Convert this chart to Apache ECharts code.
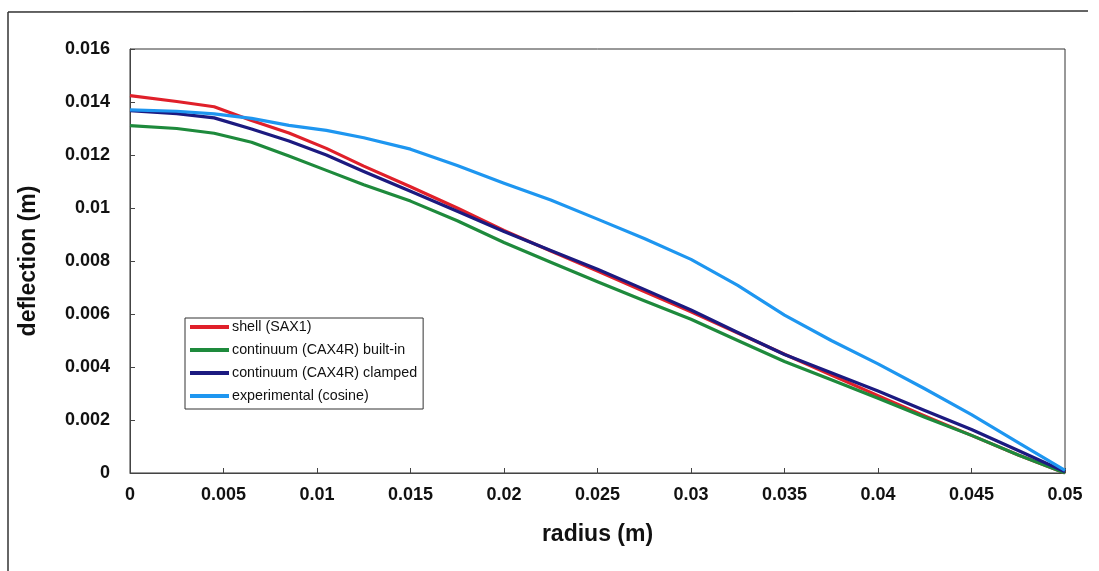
<!DOCTYPE html>
<html>
<head>
<meta charset="utf-8">
<script src="https://cdn.jsdelivr.net/npm/echarts@6/dist/echarts.min.js"></script>
<style>
html,body{margin:0;padding:0;background:#fff;}
#chart{width:1099px;height:571px;}
</style>
</head>
<body>
<div id="chart"></div>
<script>
// radius grid (m)
const radius = [0, 0.0025, 0.0045, 0.0065, 0.0085, 0.0105, 0.0125, 0.015, 0.0175, 0.02, 0.0225, 0.025, 0.0275, 0.03, 0.0325, 0.035, 0.0375, 0.04, 0.0425, 0.045, 0.0475, 0.05];
// deflection values (m)
const shellSAX1 =          [0.01424, 0.01402, 0.01382, 0.01330, 0.01283, 0.01225, 0.01158, 0.01080, 0.01000, 0.00915, 0.00838, 0.00762, 0.00685, 0.00608, 0.00528, 0.00448, 0.00370, 0.00292, 0.00215, 0.00142, 0.00068, 0.00000];
const continuumBuiltIn =   [0.01311, 0.01300, 0.01282, 0.01248, 0.01196, 0.01142, 0.01088, 0.01026, 0.00952, 0.00870, 0.00795, 0.00722, 0.00650, 0.00580, 0.00500, 0.00421, 0.00352, 0.00282, 0.00210, 0.00142, 0.00068, 0.00000];
const continuumClamped =   [0.01367, 0.01356, 0.01340, 0.01298, 0.01253, 0.01200, 0.01138, 0.01063, 0.00988, 0.00911, 0.00840, 0.00769, 0.00693, 0.00615, 0.00530, 0.00447, 0.00378, 0.00309, 0.00236, 0.00164, 0.00085, 0.00005];
const experimentalCosine = [0.01370, 0.01365, 0.01355, 0.01338, 0.01312, 0.01293, 0.01265, 0.01222, 0.01160, 0.01093, 0.01030, 0.00958, 0.00885, 0.00806, 0.00708, 0.00596, 0.00500, 0.00412, 0.00318, 0.00220, 0.00115, 0.00010];

const seriesNames = ['shell (SAX1)', 'continuum (CAX4R) built-in', 'continuum (CAX4R) clamped', 'experimental (cosine)'];
const seriesValues = [shellSAX1, continuumBuiltIn, continuumClamped, experimentalCosine];
const seriesColors = ['#e0202a', '#1e8a3c', '#1c1a80', '#1e96f0'];

const fmt = v => String(parseFloat(Number(v).toFixed(4)));

const chart = echarts.init(document.getElementById('chart'), null, {renderer: 'canvas'});
const font = 'Liberation Sans, Arial, sans-serif';

chart.setOption({
  animation: false,
  backgroundColor: '#ffffff',
  grid: {left: 130, right: 34, top: 49, bottom: 98, show: true, borderColor: '#333', borderWidth: 1, containLabel: false},
  legend: {
    orient: 'vertical',
    left: 185, top: 318,
    backgroundColor: '#fff',
    borderColor: '#333', borderWidth: 1,
    padding: [2, 6, 6, 5],
    itemGap: 9,
    itemWidth: 39, itemHeight: 4,
    icon: 'rect',
    textStyle: {fontFamily: font, fontSize: 14.3, color: '#111', lineHeight: 14, padding: [0, 0, 0, -2]},
    data: seriesNames
  },
  xAxis: {
    type: 'value', min: 0, max: 0.05, interval: 0.005,
    name: 'radius (m)', nameLocation: 'middle', nameGap: 50,
    nameTextStyle: {fontFamily: font, fontSize: 23, fontWeight: 'bold', color: '#111'},
    axisLine: {show: true, lineStyle: {color: '#444', width: 1}},
    axisTick: {show: true, inside: true, length: 5, lineStyle: {color: '#444'}},
    splitLine: {show: false},
    axisLabel: {fontFamily: font, fontSize: 18, fontWeight: 'bold', color: '#111', margin: 13, formatter: fmt}
  },
  yAxis: {
    type: 'value', min: 0, max: 0.016, interval: 0.002,
    name: 'deflection (m)', nameLocation: 'middle', nameGap: 90, nameRotate: 90,
    nameTextStyle: {fontFamily: font, fontSize: 23, fontWeight: 'bold', color: '#111'},
    axisLine: {show: true, lineStyle: {color: '#444', width: 1}},
    axisTick: {show: true, inside: true, length: 5, lineStyle: {color: '#444'}},
    splitLine: {show: false},
    axisLabel: {fontFamily: font, fontSize: 18, fontWeight: 'bold', color: '#111', margin: 20, formatter: fmt}
  },
  graphic: [
    {type: 'line', shape: {x1: 8, y1: 12, x2: 1088, y2: 11}, style: {stroke: '#333', lineWidth: 1.5}, silent: true},
    {type: 'line', shape: {x1: 8, y1: 12, x2: 8, y2: 571}, style: {stroke: '#333', lineWidth: 1.5}, silent: true}
  ],
  series: seriesNames.map((name, i) => ({
    name: name,
    type: 'line',
    data: radius.map((r, j) => [r, seriesValues[i][j]]),
    showSymbol: false,
    symbol: 'none',
    smooth: false,
    color: seriesColors[i],
    lineStyle: {color: seriesColors[i], width: 3.2, join: 'round'}
  }))
});
</script>
</body>
</html>
